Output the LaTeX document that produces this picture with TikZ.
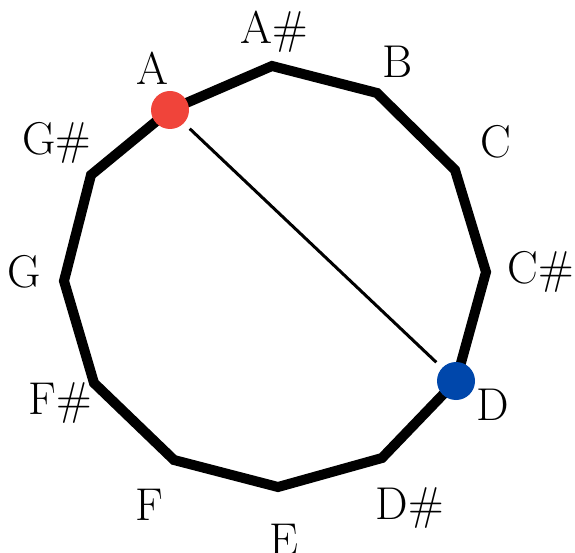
\documentclass[tikz,border=0pt]{standalone}
\begin{document}
\begin{tikzpicture}[x=1pt,y=-1pt,
  lbl/.style={font=\fontsize{46}{50}\selectfont, inner sep=0pt},
  ring/.style={line width=10pt, line join=miter},
  chord/.style={line width=3pt},
  dot/.style={circle, inner sep=0pt, minimum size=38pt}]
\definecolor{dotred}{HTML}{F0443A}
\definecolor{dotblue}{HTML}{0047AB}
\useasboundingbox (0,0) rectangle (575,553);
\coordinate (vA) at (170,110);
\coordinate (vAs) at (272,66);
\coordinate (vB) at (377,93);
\coordinate (vC) at (455,170);
\coordinate (vCs) at (486,272);
\coordinate (vD) at (456,381);
\coordinate (vDs) at (382,458);
\coordinate (vE) at (278,487);
\coordinate (vF) at (174,460);
\coordinate (vFs) at (94,383);
\coordinate (vG) at (64,281);
\coordinate (vGs) at (91,175);
\draw[ring] (vA) -- (vAs) -- (vB) -- (vC) -- (vCs) -- (vD) -- (vDs) -- (vE) -- (vF) -- (vFs) -- (vG) -- (vGs) -- cycle;
\node[dot, fill=dotred] (dA) at (vA) {};
\node[dot, fill=dotblue] (dD) at (vD) {};
\draw[chord, shorten <=8pt, shorten >=8pt] (dA) -- (dD);
\node[lbl] (lA) at (152,68) {A};
\node[lbl] (lAs) at (274,32) {A\#};
\node[lbl] (lB) at (398,62) {B};
\node[lbl] (lC) at (496,142) {C};
\node[lbl] (lCs) at (541,272) {C\#};
\node[lbl] (lD) at (493,405) {D};
\node[lbl] (lDs) at (410,508) {D\#};
\node[lbl] (lE) at (284,540) {E};
\node[lbl] (lF) at (149,505) {F};
\node[lbl] (lFs) at (60,403) {F\#};
\node[lbl] (lG) at (24,272) {G};
\node[lbl] (lGs) at (57,143) {G\#};
\end{tikzpicture}
\end{document}
